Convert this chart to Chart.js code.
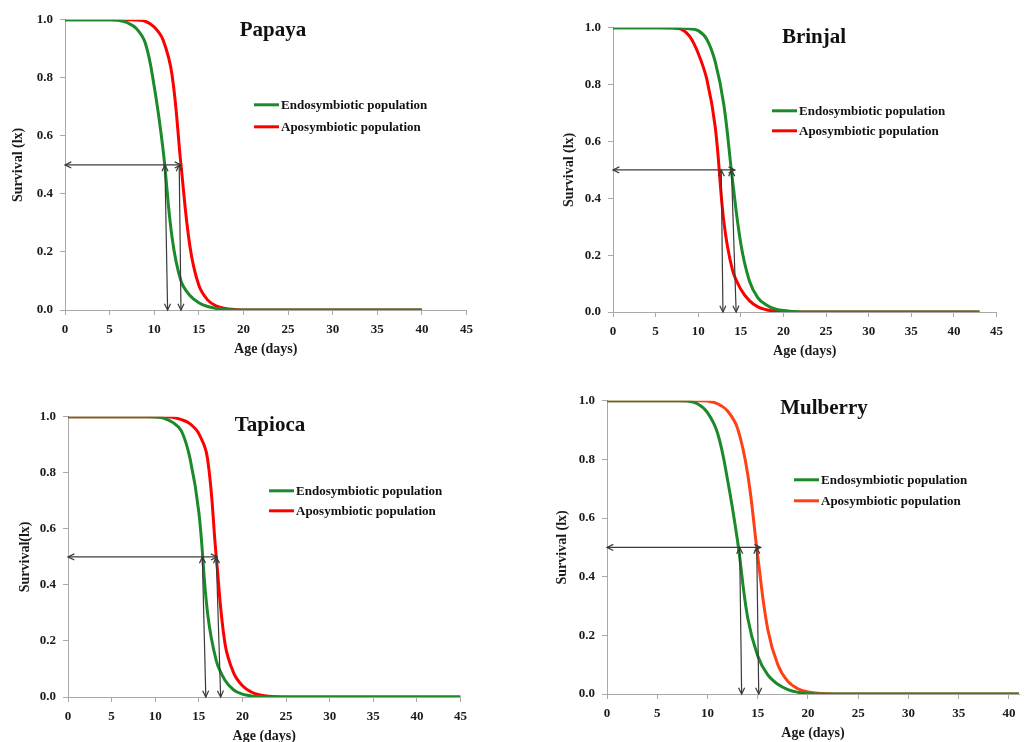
<!DOCTYPE html>
<html>
<head>
<meta charset="utf-8">
<title>Survival curves</title>
<script src="https://cdn.jsdelivr.net/npm/chart.js@4.4.1/dist/chart.umd.min.js"></script>
<style>
  html, body { margin: 0; padding: 0; background: #fff; }
  body { width: 1025px; height: 742px; position: relative; overflow: hidden; }
  .panel { position: absolute; }
</style>
</head>
<body>
<div class="panel" id="p0"><canvas id="c0"></canvas></div>
<div class="panel" id="p1"><canvas id="c1"></canvas></div>
<div class="panel" id="p2"><canvas id="c2"></canvas></div>
<div class="panel" id="p3"><canvas id="c3"></canvas></div>
<script>
// ===== DATA =====
const seriesNames = ["Endosymbiotic population", "Aposymbiotic population"];
const xTicks = [0, 5, 10, 15, 20, 25, 30, 35, 40, 45];
const yTicks = [0, 0.2, 0.4, 0.6, 0.8, 1.0];

// Papaya
const papayaAge  = [0, 5, 6, 7, 8, 9, 10, 11, 12, 13, 14, 15, 16, 17, 18, 19, 20, 25, 30, 35, 40];
const papayaEndo = [1, 1, 0.998, 0.99, 0.97, 0.92, 0.77, 0.55, 0.25, 0.1, 0.05, 0.025, 0.012, 0.005, 0.002, 0, 0, 0, 0, 0, 0];
const papayaApo  = [1, 1, 1, 1, 0.999, 0.995, 0.975, 0.93, 0.81, 0.5, 0.22, 0.085, 0.034, 0.013, 0.005, 0.002, 0, 0, 0, 0, 0];
const papayaArrowTop  = [11.2, 12.8];
const papayaArrowFoot = [11.5, 13.0];
const papayaArrowEnd  = 13.0;

// Brinjal
const brinjalAge  = [0, 5, 7, 8, 9, 10, 11, 12, 13, 14, 15, 16, 17, 18, 19, 20, 21, 22, 25, 30, 35, 40, 43];
const brinjalEndo = [1, 1, 1, 0.999, 0.997, 0.99, 0.96, 0.88, 0.73, 0.47, 0.24, 0.11, 0.05, 0.025, 0.011, 0.005, 0.002, 0, 0, 0, 0, 0, 0];
const brinjalApo  = [1, 1, 0.999, 0.995, 0.97, 0.91, 0.82, 0.65, 0.32, 0.15, 0.08, 0.04, 0.018, 0.008, 0.003, 0.001, 0, 0, 0, 0, 0, 0, 0];
const brinjalArrowTop  = [12.7, 13.9];
const brinjalArrowFoot = [12.9, 14.45];
const brinjalArrowEnd  = 14.3;

// Tapioca
const tapiocaAge  = [0, 5, 9, 10, 11, 12, 13, 14, 15, 16, 17, 18, 19, 20, 21, 22, 23, 24, 25, 30, 35, 40, 45];
const tapiocaEndo = [1, 1, 1, 0.999, 0.995, 0.98, 0.95, 0.85, 0.66, 0.3, 0.13, 0.06, 0.025, 0.01, 0.004, 0.001, 0, 0, 0, 0, 0, 0, 0];
const tapiocaApo  = [1, 1, 1, 1, 1, 0.998, 0.99, 0.975, 0.94, 0.85, 0.5, 0.19, 0.085, 0.04, 0.018, 0.007, 0.003, 0.001, 0, 0, 0, 0, 0];
const tapiocaArrowTop  = [15.4, 17.0];
const tapiocaArrowFoot = [15.8, 17.5];
const tapiocaArrowEnd  = 17.1;

// Mulberry
const mulberryAge  = [0, 5, 7, 8, 9, 10, 11, 12, 13, 14, 15, 16, 17, 18, 19, 20, 21, 22, 23, 25, 30, 35, 41];
const mulberryEndo = [1, 1, 1, 0.999, 0.99, 0.96, 0.89, 0.73, 0.52, 0.26, 0.13, 0.065, 0.033, 0.015, 0.006, 0.002, 0, 0, 0, 0, 0, 0, 0];
const mulberryApo  = [1, 1, 1, 1, 1, 0.999, 0.99, 0.965, 0.905, 0.75, 0.47, 0.22, 0.1, 0.043, 0.018, 0.007, 0.003, 0.001, 0, 0, 0, 0, 0];
const mulberryArrowTop  = [13.2, 14.9];
const mulberryArrowFoot = [13.4, 15.1];
const mulberryArrowEnd  = 15.3;

// ===== PANELS (layout only) =====
const GREEN = "#1b8a2b";
const RED = "#ff0000";
const ORANGE = "#ff4015";
const FONT = "'Liberation Serif', 'Times New Roman', serif";
const Y_AXIS_W = 55, X_AXIS_H = 48, PAD_TOP = 12, PAD_RIGHT = 12;

const panels = [
  { name: "Papaya", age: papayaAge, endo: papayaEndo, apo: papayaApo, apoColor: RED,
    top: papayaArrowTop, foot: papayaArrowFoot, end: papayaArrowEnd,
    area: [65, 17, 468, 310], xMax: 45, yTitle: "Survival (lx)", yTitlePad: 0,
    titleDx: 208, titleDy: 11, legendDx: 189, legendDy: 85, legendGap: 22 },
  { name: "Brinjal", age: brinjalAge, endo: brinjalEndo, apo: brinjalApo, apoColor: RED,
    top: brinjalArrowTop, foot: brinjalArrowFoot, end: brinjalArrowEnd,
    area: [613, 25, 998, 312], xMax: 45, yTitle: "Survival (lx)", yTitlePad: 3,
    titleDx: 201, titleDy: 10, legendDx: 159, legendDy: 83, legendGap: 20 },
  { name: "Tapioca", age: tapiocaAge, endo: tapiocaEndo, apo: tapiocaApo, apoColor: RED,
    top: tapiocaArrowTop, foot: tapiocaArrowFoot, end: tapiocaArrowEnd,
    area: [68, 414, 462, 697], xMax: 45, yTitle: "Survival(lx)", yTitlePad: 4,
    titleDx: 202, titleDy: 9, legendDx: 201, legendDy: 74, legendGap: 20 },
  { name: "Mulberry", age: mulberryAge, endo: mulberryEndo, apo: mulberryApo, apoColor: ORANGE,
    top: mulberryArrowTop, foot: mulberryArrowFoot, end: mulberryArrowEnd,
    area: [607, 398, 1019, 694], xMax: 41, yTitle: "Survival (lx)", yTitlePad: 2,
    titleDx: 217, titleDy: 8, legendDx: 187, legendDy: 79, legendGap: 21 }
];

// ===== ARROWS =====
function arrowHead(ctx, x, y, angle) {
  let len = 7, spread = 0.45;
  ctx.beginPath();
  ctx.moveTo(x - len * Math.cos(angle - spread), y - len * Math.sin(angle - spread));
  ctx.lineTo(x, y);
  ctx.lineTo(x - len * Math.cos(angle + spread), y - len * Math.sin(angle + spread));
  ctx.stroke();
}

function arrow(ctx, x1, y1, x2, y2) {
  ctx.beginPath();
  ctx.moveTo(x1, y1);
  ctx.lineTo(x2, y2);
  ctx.stroke();
  let a = Math.atan2(y2 - y1, x2 - x1);
  arrowHead(ctx, x2, y2, a);
  arrowHead(ctx, x1, y1, a + Math.PI);
}

const decorPlugin = {
  id: "decor",
  afterDatasetsDraw(chart, args, opts) {
    let p = opts.panel;
    let ctx = chart.ctx;
    let xs = chart.scales.x, ys = chart.scales.y;
    let area = chart.chartArea;

    // median survival markers
    ctx.save();
    ctx.strokeStyle = "#3a3a3a";
    ctx.lineWidth = 1.2;
    arrow(ctx, xs.getPixelForValue(0), ys.getPixelForValue(0.5),
               xs.getPixelForValue(p.end), ys.getPixelForValue(0.5));
    p.top.forEach((t, i) => {
      arrow(ctx, xs.getPixelForValue(t), ys.getPixelForValue(0.5),
                 xs.getPixelForValue(p.foot[i]), ys.getPixelForValue(0));
    });

    // host plant name
    ctx.fillStyle = "#111";
    ctx.font = "bold 21px " + FONT;
    ctx.textAlign = "center";
    ctx.textBaseline = "middle";
    ctx.fillText(p.name, area.left + p.titleDx, area.top + p.titleDy);

    // legend
    ctx.font = "bold 13px " + FONT;
    ctx.textAlign = "left";
    [GREEN, p.apoColor].forEach((c, i) => {
      let lx = area.left + p.legendDx;
      let ly = area.top + p.legendDy + i * p.legendGap;
      ctx.strokeStyle = c;
      ctx.lineWidth = 3;
      ctx.beginPath();
      ctx.moveTo(lx, ly);
      ctx.lineTo(lx + 25, ly);
      ctx.stroke();
      ctx.fillStyle = "#111";
      ctx.fillText(seriesNames[i], lx + 27, ly + 1);
    });
    ctx.restore();
  }
};

// ===== BUILD =====
function points(age, vals) {
  return age.map((a, i) => ({ x: a, y: vals[i] }));
}

function makePanel(p, i) {
  let [l, t, r, b] = p.area;
  let box = document.getElementById("p" + i);
  let left = l - Y_AXIS_W, top = t - PAD_TOP;
  box.style.left = left + "px";
  box.style.top = top + "px";
  box.style.width = (r - left + PAD_RIGHT) + "px";
  box.style.height = (b - top + X_AXIS_H) + "px";

  let tickFont = { family: FONT, size: 13, weight: "bold" };
  let titleFont = { family: FONT, size: 14, weight: "bold" };

  new Chart(document.getElementById("c" + i), {
    type: "line",
    data: {
      datasets: [
        { label: seriesNames[0], data: points(p.age, p.endo), borderColor: GREEN },
        { label: seriesNames[1], data: points(p.age, p.apo), borderColor: p.apoColor }
      ]
    },
    options: {
      responsive: true,
      maintainAspectRatio: false,
      animation: false,
      events: [],
      layout: { padding: { top: PAD_TOP, right: PAD_RIGHT, left: 0, bottom: 0 } },
      elements: {
        point: { radius: 0 },
        line: { borderWidth: 3, tension: 0.4, fill: false }
      },
      scales: {
        x: {
          type: "linear", min: 0, max: p.xMax,
          afterFit: s => { s.height = X_AXIS_H; },
          afterBuildTicks: s => { s.ticks = xTicks.filter(v => v <= p.xMax).map(v => ({ value: v })); },
          grid: { drawOnChartArea: false, tickLength: 5, color: "#a8a8a8" },
          border: { color: "#a8a8a8", width: 1 },
          ticks: { font: tickFont, color: "#1a1a1a", padding: 7, maxRotation: 0 },
          title: { display: true, text: "Age (days)", font: titleFont, color: "#1a1a1a", padding: 0 }
        },
        y: {
          type: "linear", min: 0, max: 1,
          afterFit: s => { s.width = Y_AXIS_W; },
          afterBuildTicks: s => { s.ticks = yTicks.map(v => ({ value: v })); },
          grid: { drawOnChartArea: false, tickLength: 5, color: "#a8a8a8" },
          border: { color: "#a8a8a8", width: 1 },
          ticks: { font: tickFont, color: "#1a1a1a", padding: 7, callback: v => v.toFixed(1) },
          title: { display: true, text: p.yTitle, font: titleFont, color: "#1a1a1a",
                   padding: { top: p.yTitlePad, bottom: 0 } }
        }
      },
      plugins: {
        legend: { display: false },
        tooltip: { enabled: false },
        decor: { panel: p }
      }
    },
    plugins: [decorPlugin]
  });
}

// ===== INIT =====
panels.forEach(makePanel);
</script>
</body>
</html>
